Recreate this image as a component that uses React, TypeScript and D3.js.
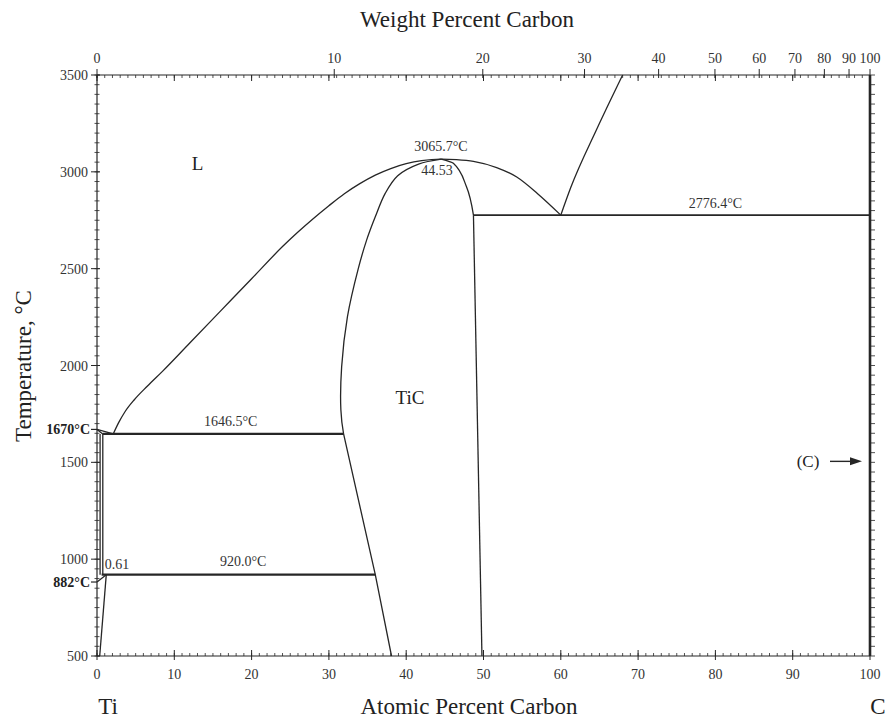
import React from "react";
import * as d3 from "d3";

const W = 895;
const H = 722;

// axis ticks
const atMajor = d3.range(0, 101, 10);
const atMinor = d3.range(0, 101, 1);
const wtMajor = [0, 10, 20, 30, 40, 50, 60, 70, 80, 90, 100];
const tempMajor = [500, 1000, 1500, 2000, 2500, 3000, 3500];
const tempMinor = d3.range(500, 3501, 50);

// phase boundaries [at.% C, °C]
const liquidusTi: [number, number][] = [[0, 1670], [2.1, 1646.5]];
const liquidusMain: [number, number][] = [
  [2.1, 1646.5], [2.8, 1705], [3.6, 1760], [4.8, 1822], [6.5, 1893], [8.5, 1971],
  [12, 2116], [16, 2282], [20, 2448], [24, 2614], [26, 2689], [28, 2759], [30, 2825],
  [32, 2887], [34, 2939], [36, 2983], [38, 3017], [40, 3042], [42, 3058], [44.53, 3065.7],
  [46.5, 3063], [48.7, 3054], [51.7, 3022], [54.3, 2973], [57, 2887], [60, 2776.4],
];
const liquidusC: [number, number][] = [[60, 2776.4], [61.3, 2920], [64.6, 3216], [68, 3500]];
const ticLeftUpper: [number, number][] = [
  [44.53, 3065.7], [41.6, 3040], [38.9, 2980], [37.3, 2890], [36.0, 2768], [34.9, 2650],
  [33.8, 2500], [32.4, 2252], [31.65, 1994], [31.55, 1770], [31.9, 1646.5],
];
const ticLeftLower: [number, number][] = [[31.9, 1646.5], [36, 920], [38.1, 500]];
const ticRightUpper: [number, number][] = [[44.53, 3065.7], [46.1, 3044], [47.8, 2923], [48.7, 2776.4]];
const ticRightLower: [number, number][] = [[48.7, 2776.4], [49.8, 500]];
const solidusTi: [number, number][] = [[0, 1670], [0.75, 1646.5]];
const betaSolvusA: [number, number][] = [[0.4, 1646.5], [0.4, 920]];
const betaSolvusB: [number, number][] = [[0.75, 1646.5], [0.75, 920]];
const alphaTransus: [number, number][] = [[0, 882], [1.2, 920]];
const alphaSolvus: [number, number][] = [[0.35, 500], [1.2, 920]];
const isoPeritectic: [number, number][] = [[0.75, 1646.5], [31.9, 1646.5]];
const isoEutectoid: [number, number][] = [[0.6, 920], [36, 920]];
const isoEutectic: [number, number][] = [[48.7, 2776.4], [100, 2776.4]];

// annotations [at.% C, °C, text]
const annoLabels: [number, number, string][] = [
  [44.5, 3110, "3065.7°C"],
  [44.0, 2985, "44.53"],
  [80, 2815, "2776.4°C"],
  [17.3, 1690, "1646.5°C"],
  [18.9, 963, "920.0°C"],
];
const phaseLabels: [number, number, string][] = [
  [13.0, 3010, "L"],
  [40.5, 1800, "TiC"],
];
const arrowTemp = 1505;

const atFromWt = (w: number) => {
  const a = w / 12.011;
  const b = (100 - w) / 47.867;
  return (a / (a + b)) * 100;
};

const x = d3.scaleLinear().domain([0, 100]).range([97, 870]);
const y = d3.scaleLinear().domain([500, 3500]).range([656, 75]);

const curveX = d3.line<[number, number]>().x((d) => x(d[0])).y((d) => y(d[1])).curve(d3.curveMonotoneX);
const curveY = d3.line<[number, number]>().x((d) => x(d[0])).y((d) => y(d[1])).curve(d3.curveMonotoneY);
const curveCR = d3.line<[number, number]>().x((d) => x(d[0])).y((d) => y(d[1])).curve(d3.curveCatmullRom.alpha(0.5));
const straight = d3.line<[number, number]>().x((d) => x(d[0])).y((d) => y(d[1]));

const ink = "#262626";
const FONT = "'Liberation Serif', 'Times New Roman', serif";

export default function App() {
  const x0 = x(0), x1 = x(100), yB = y(500), yT = y(3500);
  const ya = y(arrowTemp);
  return (
    <svg width={W} height={H} style={{ position: "absolute", left: 0, top: 0, background: "#fff" }} fontFamily={FONT}>
      <rect x={0} y={0} width={W} height={H} fill="#fff" />
      {/* frame */}
      <line x1={x0} y1={yT} x2={x0} y2={yB} stroke={ink} strokeWidth={1.2} />
      <line x1={x0} y1={yB} x2={x1} y2={yB} stroke={ink} strokeWidth={1.2} />
      <line x1={x0} y1={yT} x2={x1} y2={yT} stroke={ink} strokeWidth={1.2} />
      <line x1={x1} y1={yT} x2={x1} y2={yB} stroke={ink} strokeWidth={2.6} />

      {/* bottom axis ticks */}
      {atMinor.map((v) => (
        <line key={"bm" + v} x1={x(v)} x2={x(v)} y1={yB - 3} y2={yB} stroke={ink} strokeWidth={0.8} />
      ))}
      {atMajor.map((v) => (
        <g key={"bM" + v}>
          <line x1={x(v)} x2={x(v)} y1={yB - 6} y2={yB + 4} stroke={ink} strokeWidth={1} />
          <text x={x(v)} y={yB + 23} textAnchor="middle" fontSize={14} fill="#333">{v}</text>
        </g>
      ))}

      {/* top axis ticks */}
      {atMinor.map((v) => (
        <line key={"tm" + v} x1={x(v)} x2={x(v)} y1={yT} y2={yT + 3} stroke={ink} strokeWidth={0.8} />
      ))}
      {atMajor.map((v) => (
        <line key={"tM" + v} x1={x(v)} x2={x(v)} y1={yT} y2={yT + 6} stroke={ink} strokeWidth={1} />
      ))}
      {wtMajor.map((w) => (
        <g key={"wt" + w}>
          <line x1={x(atFromWt(w))} x2={x(atFromWt(w))} y1={yT - 6} y2={yT + 3} stroke={ink} strokeWidth={1} />
          <text x={x(atFromWt(w))} y={yT - 12} textAnchor="middle" fontSize={14} fill="#333">{w}</text>
        </g>
      ))}

      {/* left axis ticks */}
      {tempMinor.map((t) => (
        <line key={"lm" + t} x1={x0 - 2.5} x2={x0 + 2.5} y1={y(t)} y2={y(t)} stroke={ink} strokeWidth={0.8} />
      ))}
      {tempMajor.map((t) => (
        <g key={"lM" + t}>
          <line x1={x0 - 6} x2={x0 + 3} y1={y(t)} y2={y(t)} stroke={ink} strokeWidth={1} />
          <text x={x0 - 9} y={y(t) + 5} textAnchor="end" fontSize={14} fill="#333">{t}</text>
        </g>
      ))}
      {/* right axis ticks */}
      {tempMinor.map((t) => (
        <line key={"rm" + t} x1={x1} x2={x1 + 5} y1={y(t)} y2={y(t)} stroke={ink} strokeWidth={0.8} />
      ))}

      {/* special temperature marks */}
      <line x1={x0 - 6} x2={x0} y1={y(1670)} y2={y(1670)} stroke={ink} strokeWidth={1.2} />
      <text x={x0 - 7} y={y(1670) + 5} textAnchor="end" fontSize={14} fontWeight="bold" fill="#222">1670°C</text>
      <line x1={x0 - 6} x2={x0} y1={y(882)} y2={y(882)} stroke={ink} strokeWidth={1.2} />
      <text x={x0 - 7} y={y(882) + 5} textAnchor="end" fontSize={14} fontWeight="bold" fill="#222">882°C</text>

      {/* phase boundaries */}
      <g fill="none" stroke={ink} strokeWidth={1.3} strokeLinejoin="round">
        <path d={straight(liquidusTi) || ""} />
        <path d={curveX(liquidusMain) || ""} />
        <path d={curveX(liquidusC) || ""} />
        <path d={curveCR(ticLeftUpper) || ""} />
        <path d={straight(ticLeftLower) || ""} />
        <path d={curveY(ticRightUpper) || ""} />
        <path d={straight(ticRightLower) || ""} />
        <path d={straight(solidusTi) || ""} />
        <path d={straight(betaSolvusA) || ""} />
        <path d={straight(betaSolvusB) || ""} />
        <path d={straight(alphaTransus) || ""} />
        <path d={straight(alphaSolvus) || ""} />
        <path d={straight(isoPeritectic) || ""} strokeWidth={2.2} />
        <path d={straight(isoEutectoid) || ""} strokeWidth={2.2} />
        <path d={straight(isoEutectic) || ""} strokeWidth={1.8} />
      </g>

      {/* annotations */}
      {annoLabels.map(([a, t, s]) => (
        <text key={s} x={x(a)} y={y(t)} textAnchor="middle" fontSize={14} fill="#333">{s}</text>
      ))}
      <text x={x(1.0)} y={y(920) - 6} fontSize={14} fill="#333">0.61</text>
      {phaseLabels.map(([a, t, s]) => (
        <text key={s} x={x(a)} y={y(t)} textAnchor="middle" fontSize={19} fill="#222">{s}</text>
      ))}

      {/* (C) arrow */}
      <text x={808} y={ya + 6} textAnchor="middle" fontSize={17} fill="#222">(C)</text>
      <line x1={830} x2={852} y1={ya} y2={ya} stroke={ink} strokeWidth={1.4} />
      <path d={`M${862},${ya} L${850},${ya - 4} L${850},${ya + 4} Z`} fill={ink} />

      {/* titles */}
      <text x={467} y={27} textAnchor="middle" fontSize={23} fill="#222">Weight Percent Carbon</text>
      <text x={469} y={714} textAnchor="middle" fontSize={23} fill="#222">Atomic Percent Carbon</text>
      <text x={108} y={714} textAnchor="middle" fontSize={23} fill="#222">Ti</text>
      <text x={878} y={714} textAnchor="middle" fontSize={23} fill="#222">C</text>
      <text transform={`translate(31,366) rotate(-90)`} textAnchor="middle" fontSize={23} fill="#222">Temperature, °C</text>
    </svg>
  );
}
